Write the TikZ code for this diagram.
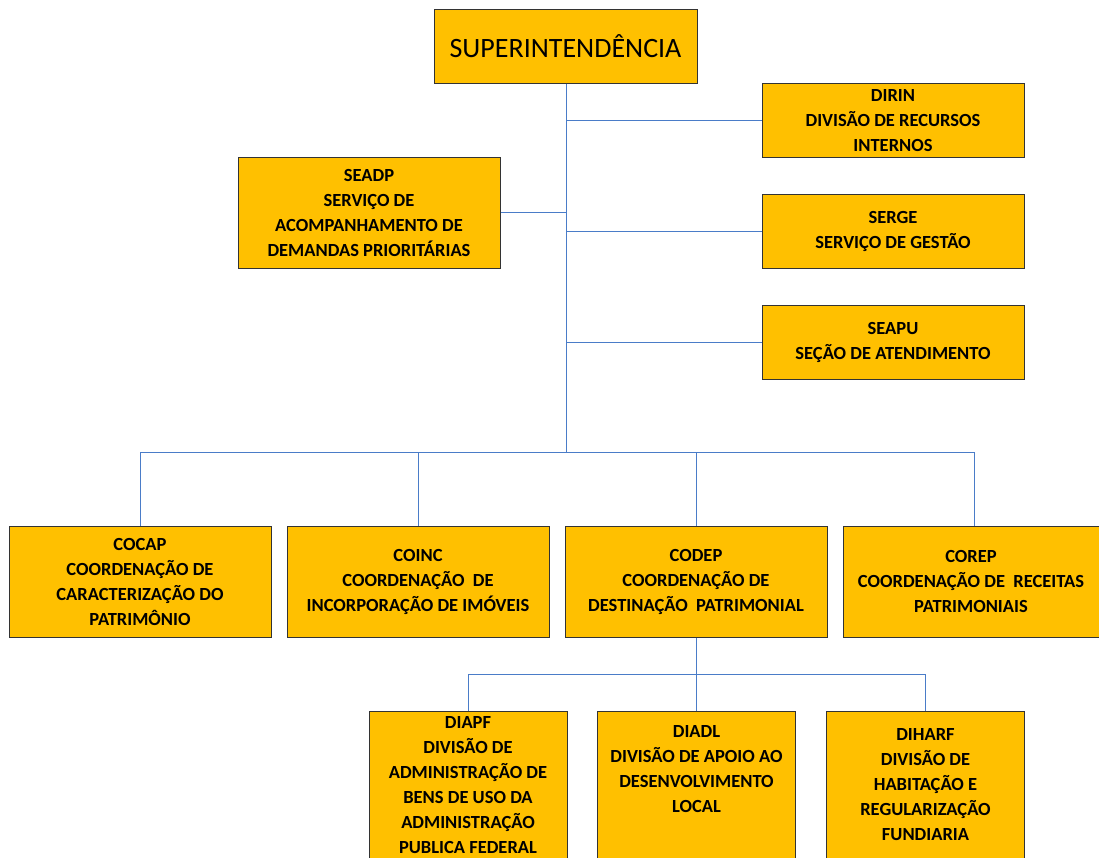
\documentclass[tikz,border=0pt]{standalone}
\usepackage{fontspec}
\setmainfont{Carlito}
\usepackage{tikz}
\usetikzlibrary{positioning}

\definecolor{orgfill}{HTML}{FFC000}
\definecolor{orgline}{HTML}{4A7CC8}

\tikzset{
  unit/.style={draw=black!80, line width=1pt, fill=orgfill, inner sep=0pt,
    minimum width=262pt, minimum height=111pt, align=center,
    font=\fontsize{18.5}{25}\selectfont\bfseries},
  side/.style={unit, minimum height=74pt},
  sub/.style={unit, minimum width=198pt, minimum height=148pt},
  link/.style={draw=orgline, line width=1pt}
}

\begin{document}
\begin{tikzpicture}[x=1pt,y=-1pt]
        \useasboundingbox (0,0) rectangle (1099,857);
        \clip (0,0) rectangle (1099,857);

        \node[unit, minimum width=263pt, minimum height=74pt,
          font=\fontsize{28}{30}\selectfont] (super) at (565.5,46) {SUPERINTENDÊNCIA};

        \node[side] (dirin) at (893,120.5) {DIRIN\\DIVISÃO DE RECURSOS\\INTERNOS};
        \node[unit] (seadp) at (369,212.5) {SEADP\\SERVIÇO DE\\ACOMPANHAMENTO DE\\DEMANDAS PRIORITÁRIAS};
        \node[side] (serge) at (893,231) {SERGE\\SERVIÇO DE GESTÃO};
        \node[side] (seapu) at (893,342) {SEAPU\\SEÇÃO DE ATENDIMENTO};

        \node[unit] (cocap) at (140,581.5) {COCAP\\COORDENAÇÃO DE\\CARACTERIZAÇÃO DO\\PATRIMÔNIO};
        \node[unit] (coinc) at (418,581.5) {COINC\\COORDENAÇÃO~ DE\\INCORPORAÇÃO DE IMÓVEIS};
        \node[unit] (codep) at (696,581.5) {CODEP\\COORDENAÇÃO DE\\DESTINAÇÃO~ PATRIMONIAL};
        \node[unit, minimum width=256pt] (corep) at (971,581.5) {COREP\\COORDENAÇÃO DE~ RECEITAS\\PATRIMONIAIS};

        \node[sub] (diapf) at (468,785) {DIAPF\\DIVISÃO DE\\ADMINISTRAÇÃO DE\\BENS DE USO DA\\ADMINISTRAÇÃO\\PUBLICA FEDERAL};
        \node[sub] (diadl) at (696.5,785) {DIADL\\DIVISÃO DE APOIO AO\\DESENVOLVIMENTO\\LOCAL\\\strut};
        \node[sub] (diharf) at (925.5,785) {DIHARF\\DIVISÃO DE\\HABITAÇÃO E\\REGULARIZAÇÃO\\FUNDIARIA};

        % tronco principal
        \coordinate (trunk) at (566,452);
        \draw[link] (super.south -| trunk) -- (trunk);
        \draw[link] (trunk |- dirin.west) -- (dirin.west);
        \draw[link] (seadp.east) -- (seadp.east -| trunk);
        \draw[link] (trunk |- serge.west) -- (serge.west);
        \draw[link] (trunk |- seapu.west) -- (seapu.west);

        % coordenacoes
        \draw[link] (cocap.north) -- (cocap.north |- trunk) -| (corep.north -| 974,0);
        \draw[link] (coinc.north) -- (coinc.north |- trunk);
        \draw[link] (codep.north) -- (codep.north |- trunk);

        % divisoes da CODEP
        \coordinate (fork) at (696,674);
        \draw[link] (codep.south) -- (fork);
        \draw[link] (diapf.north) -- (diapf.north |- fork) -| (diharf.north);
        \draw[link] (diadl.north -| fork) -- (fork);
\end{tikzpicture}
\end{document}
